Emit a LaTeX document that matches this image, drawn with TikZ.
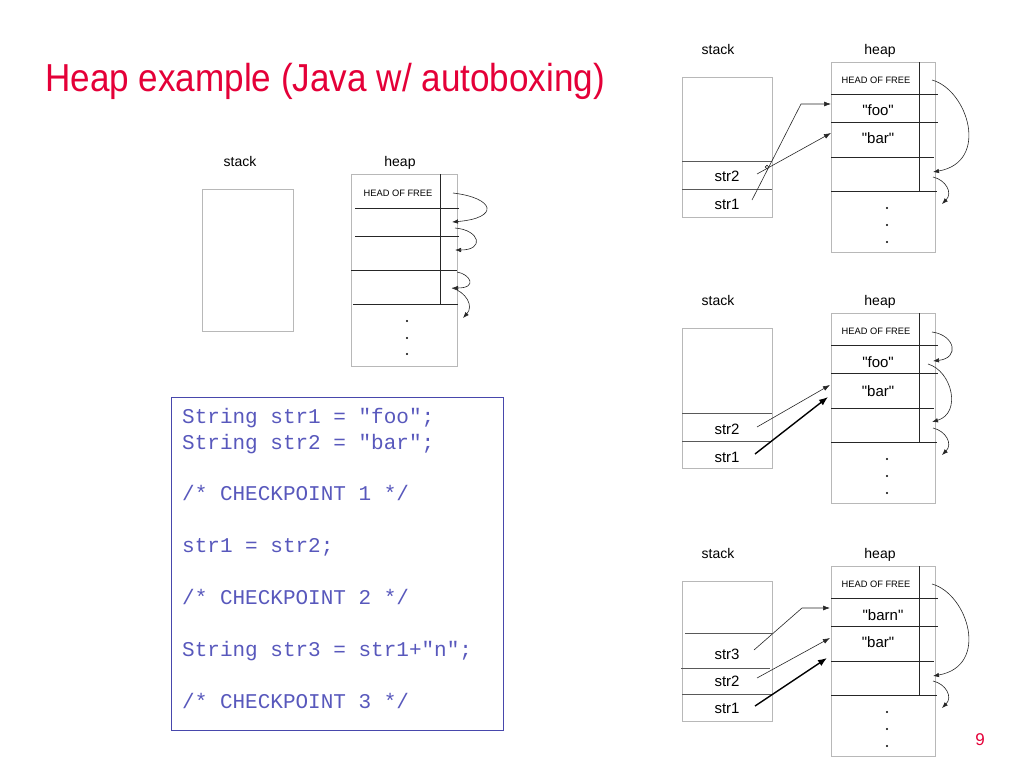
\documentclass[tikz,border=0pt]{standalone}
\usepackage{fontspec}
\setmainfont{Liberation Sans}
\setmonofont{Liberation Mono}
\newfontfamily\plainsans{Liberation Sans}
\usepackage{graphicx}
\usetikzlibrary{arrows.meta, positioning, calc}

\definecolor{titlered}{RGB}{228,0,56}
\definecolor{codeblue}{RGB}{88,88,188}
\definecolor{boxblue}{RGB}{72,72,172}

\tikzset{
  outline/.style={draw=black!28, line width=0.8pt},
  slotline/.style={draw=black!65, line width=0.7pt},
  cellline/.style={draw=black!85, line width=0.7pt},
  freearr/.style={draw=black!85, line width=0.6pt, -{Latex[length=6pt,width=4.5pt]}},
  ptr/.style={draw=black!85, line width=0.6pt, -{Latex[length=7pt,width=5pt]}},
  thickptr/.style={draw=black, line width=1.4pt, -{Latex[length=9pt,width=7pt]}},
  lbl/.style={inner sep=0pt, anchor=base, font=\fontsize{14}{16}\selectfont},
  slotlbl/.style={inner sep=0pt, anchor=base, font=\plainsans\fontsize{15}{17}\selectfont},
  headlbl/.style={inner sep=0pt, anchor=base, font=\fontsize{9.3}{11}\selectfont},
  codeline/.style={inner sep=0pt, anchor=base west, text=codeblue, font=\ttfamily\fontsize{21}{26}\selectfont}
}

\begin{document}
\begin{tikzpicture}[x=1pt, y=-1pt]
  \useasboundingbox (0,0) rectangle (1023,780);

  % title
  \node[anchor=base west, inner sep=0pt, text=titlered, font=\fontsize{39}{44}\selectfont] (title) at (45,91)
    {\scalebox{0.9}[1]{Heap example (Java w/ autoboxing)}};
  \node[anchor=base, inner sep=0pt, text=titlered, font=\fontsize{17}{20}\selectfont] (pagenum) at (980,745) {9};

  % initial state
  \node[lbl] (stk0) at (240,166) {stack};
  \node[lbl] (hp0) at (400,166) {heap};
  \draw[outline] (202,189) rectangle (293,331);
  \draw[outline] (351,174) rectangle (457,366);
  \draw[cellline] (440,174) -- (440,305);
  \draw[cellline] (355,208) -- (459,208);
  \draw[cellline] (355,236) -- (459,236);
  \draw[cellline] (351,270) -- (457,270);
  \draw[cellline] (353,304) -- (458,304);
  \node[headlbl] (hf0) at (398,196) {HEAD OF FREE};
  \foreach \d in {321,338,354}
    \fill (407,\d) circle[radius=1.2pt];
  \draw[freearr] (453,193) .. controls (495,198) and (500,218) .. (452,222);
  \draw[freearr] (455,228) .. controls (480,230) and (485,250) .. (455,250);
  \draw[freearr] (457,272) .. controls (470,274) and (478,288) .. (452,288);
  \draw[freearr] (452,288) .. controls (466,292) and (474,306) .. (463,318);

  % code
  \node[draw=boxblue, line width=0.8pt, anchor=north west, inner sep=0pt,
        minimum width=332pt, minimum height=333pt] (codebox) at (171,397) {};
  \foreach \y/\txt in {423/{String str1 = "foo";}, 449/{String str2 = "bar";},
                       500/{/* CHECKPOINT 1 */}, 552/{str1 = str2;},
                       604/{/* CHECKPOINT 2 */}, 656/{String str3 = str1+"n";},
                       708/{/* CHECKPOINT 3 */}}
    \node[codeline] at (182,\y) {\txt};

  % three checkpoints, common parts
  \foreach \t in {62,313,566} {
    \begin{scope}[shift={(0,\t)}]
      \node[lbl] (stk\t) at (718,-8) {stack};
      \node[lbl] (hp\t) at (880,-8) {heap};
      \draw[outline] (682,15) rectangle (772,155);
      \draw[outline] (831,0) rectangle (935,190);
      \draw[cellline] (919,0) -- (919,130);
      \foreach \h/\r in {32/938,60/938,95/934,129/937}
        \draw[cellline] (831,\h) -- (\r,\h);
      \node[headlbl] (hf\t) at (876,21) {HEAD OF FREE};
      \foreach \d in {146,163,180}
        \fill (887,\d) circle[radius=1.2pt];
      \draw[freearr] (933,115) .. controls (946,118) and (953,131) .. (942,142);
    \end{scope}
  }

  % checkpoint 1
  \draw[slotline] (682,161) -- (772,161);
  \draw[slotline] (682,189) -- (772,189);
  \node[slotlbl] (p1str2) at (727,181) {str2};
  \node[slotlbl] (p1str1) at (727,209) {str1};
  \node[slotlbl] (p1foo) at (878,115) {"foo"};
  \node[slotlbl] (p1bar) at (878,143) {"bar"};
  \coordinate (p1s1) at (752,200);
  \coordinate (p1s2) at (757,174);
  \coordinate (p1bend) at (801,104);
  \coordinate (p1a) at (831,104);
  \coordinate (p1b) at (831,133);
  \draw[ptr] (p1s1) -- (p1bend) -- (p1a);
  \draw[ptr] (p1s2) -- (p1b);
  \draw[fill=white, line width=0.5pt] (767,167) circle[radius=1.8pt];
  \draw[freearr] (932,80) .. controls (968,90) and (990,162) .. (933,172);

  % checkpoint 2
  \draw[slotline] (682,413) -- (772,413);
  \draw[slotline] (682,441) -- (772,441);
  \node[slotlbl] (p2str2) at (727,434) {str2};
  \node[slotlbl] (p2str1) at (727,462) {str1};
  \node[slotlbl] (p2foo) at (878,367) {"foo"};
  \node[slotlbl] (p2bar) at (878,396) {"bar"};
  \coordinate (p2s2) at (757,427);
  \coordinate (p2s1) at (755,454);
  \coordinate (p2a) at (830,385);
  \coordinate (p2b) at (828,397);
  \draw[ptr] (p2s2) -- (p2a);
  \draw[thickptr] (p2s1) -- (p2b);
  \draw[freearr] (932,332) .. controls (955,335) and (960,358) .. (933,361);
  \draw[freearr] (928,364) .. controls (952,371) and (962,413) .. (932,422);

  % checkpoint 3
  \draw[slotline] (685,633) -- (772,633);
  \draw[slotline] (681,668) -- (770,668);
  \draw[slotline] (682,694) -- (772,694);
  \node[slotlbl] (p3str3) at (727,659) {str3};
  \node[slotlbl] (p3str2) at (727,686) {str2};
  \node[slotlbl] (p3str1) at (727,713) {str1};
  \node[slotlbl] (p3barn) at (883,620) {"barn"};
  \node[slotlbl] (p3bar) at (878,647) {"bar"};
  \coordinate (p3s3) at (754,650);
  \coordinate (p3s2) at (757,678);
  \coordinate (p3s1) at (755,706);
  \coordinate (p3bend) at (802,608);
  \coordinate (p3a) at (830,608);
  \coordinate (p3b) at (830,638);
  \coordinate (p3c) at (827,658);
  \draw[ptr] (p3s3) -- (p3bend) -- (p3a);
  \draw[ptr] (p3s2) -- (p3b);
  \draw[thickptr] (p3s1) -- (p3c);
  \draw[freearr] (932,584) .. controls (968,594) and (990,666) .. (933,676);
\end{tikzpicture}
\end{document}
